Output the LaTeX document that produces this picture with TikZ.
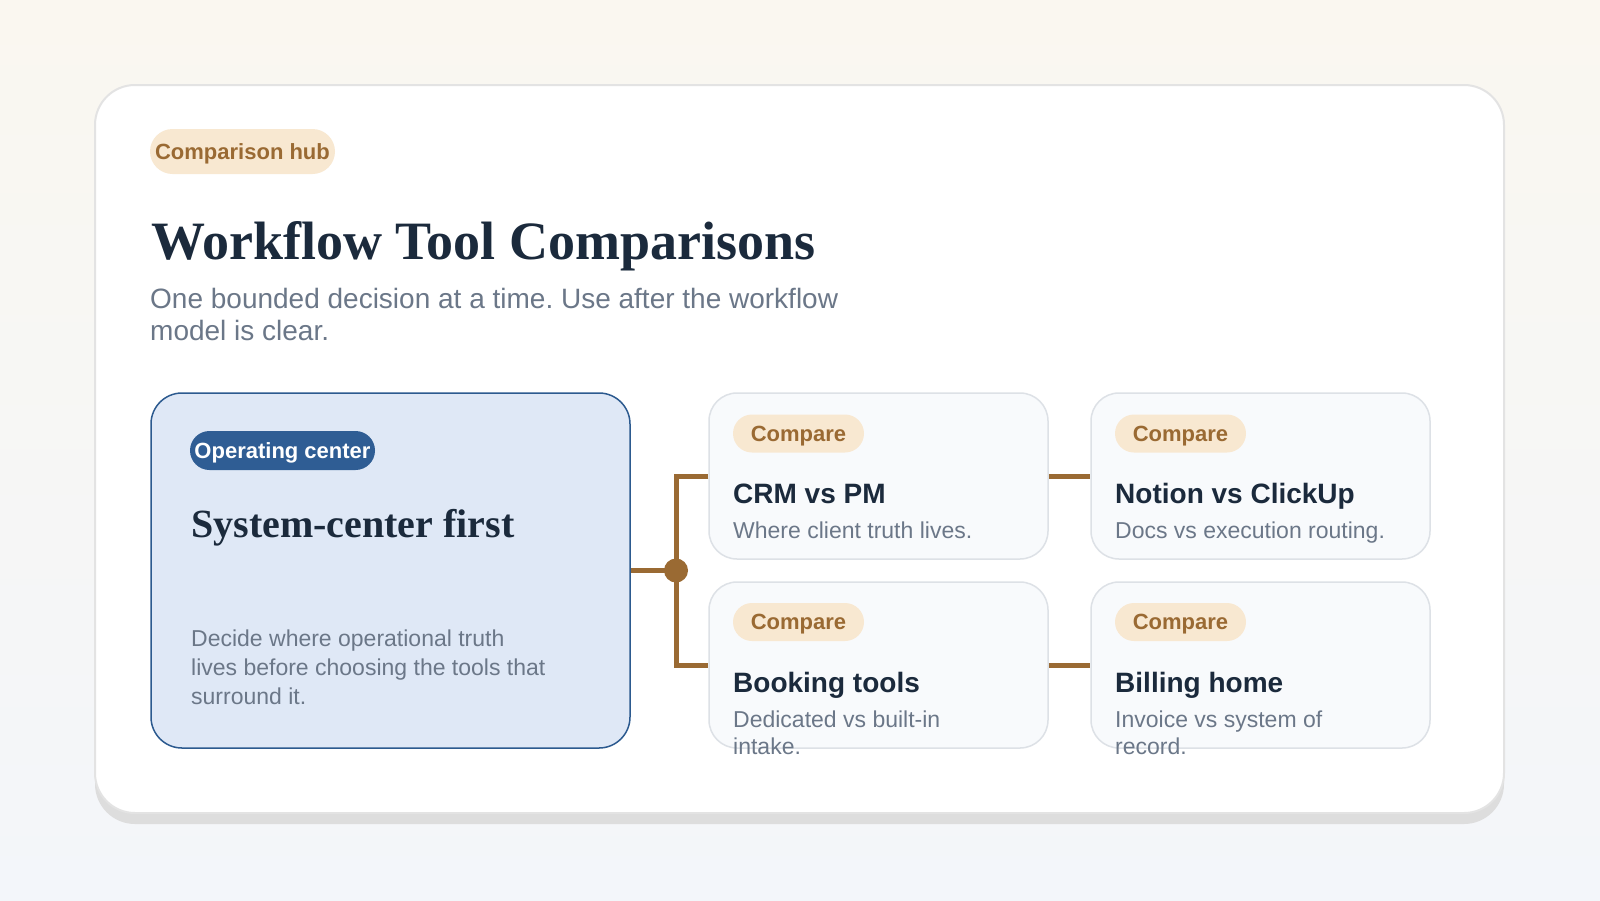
\documentclass[tikz,border=0pt]{standalone}
\usepackage{fontspec}
\setmainfont{Liberation Serif}
\newfontfamily\sansf{Liberation Sans}
\frenchspacing
\definecolor{brownc}{HTML}{9A6A33}
\definecolor{peach}{HTML}{F8E8D1}
\definecolor{navy}{HTML}{1B2A3C}
\definecolor{grayt}{HTML}{6B7788}
\definecolor{bluebox}{HTML}{DFE8F6}
\definecolor{blueline}{HTML}{2C5A8F}
\definecolor{bluepill}{HTML}{2F5D94}
\definecolor{cardfill}{HTML}{F8FAFC}
\definecolor{cardline}{HTML}{DDE1E6}
\definecolor{shadowc}{HTML}{DDDDDD}
\definecolor{outerline}{HTML}{E3E3E3}
\definecolor{bgtop}{HTML}{FAF7F0}
\definecolor{bgbot}{HTML}{F3F6FA}
\begin{document}
\begin{tikzpicture}[x=1pt,y=-1pt,
  txt/.style={anchor=base west, inner sep=0pt},
  pillbox/.style={inner sep=0pt, text height=18pt, text depth=3pt, font=\sansf\bfseries\fontsize{22}{26}\selectfont},
  tagpill/.style={pillbox, fill=peach, text=brownc, minimum width=131, minimum height=38, rounded corners=19},
  card/.style={draw=cardline, fill=cardfill, line width=1.5pt, rounded corners=28, minimum width=339, minimum height=166, inner sep=0pt},
  cardtitle/.style={txt, font=\sansf\bfseries\fontsize{28}{32}\selectfont, text=navy},
  cardsub/.style={txt, font=\sansf\fontsize{23}{27}\selectfont, text=grayt},
  conn/.style={draw=brownc, line width=5pt, line join=miter}
]
\path[top color=bgtop, bottom color=bgbot] (0,0) rectangle (1600,900);
\useasboundingbox (0,0) rectangle (1600,900);

% outer card
\node[fill=shadowc, rounded corners=40, minimum width=1409, minimum height=728, inner sep=0pt] (shadow) at (799.5,460) {};
\node[draw=outerline, fill=white, line width=2pt, rounded corners=40, minimum width=1409, minimum height=728, inner sep=0pt] (outer) at (799.5,449) {};

% header
\node[pillbox, fill=peach, text=brownc, minimum width=185, minimum height=45, rounded corners=22.5] (hubpill) at (242.5,151.5) {Comparison hub};
\node[txt, font=\bfseries\fontsize{54}{60}\selectfont, text=navy] (title) at (151,259) {Workflow Tool Comparisons};
\node[txt, font=\sansf\fontsize{28}{32}\selectfont, text=grayt] (sub1) at (150,308) {One bounded decision at a time. Use after the workflow};
\node[txt, font=\sansf\fontsize{28}{32}\selectfont, text=grayt] (sub2) at (150,340) {model is clear.};

% left big box
\node[draw=blueline, fill=bluebox, line width=1.5pt, rounded corners=31, minimum width=479, minimum height=355, inner sep=0pt] (center) at (390.5,570.5) {};
\node[pillbox, fill=bluepill, text=white, minimum width=185, minimum height=39, rounded corners=19.5] (oppill) at (282.5,450.5) {Operating center};
\node[txt, font=\bfseries\fontsize{40}{46}\selectfont, text=navy] (ctitle) at (191,537) {System-center first};
\node[cardsub] (cd1) at (191,646) {Decide where operational truth};
\node[cardsub] (cd2) at (191,675) {lives before choosing the tools that};
\node[cardsub] (cd3) at (191,704) {surround it.};

% cards
\node[card] (card1) at (878.5,476) {};
\node[card] (card2) at (1260.5,476) {};
\node[card] (card3) at (878.5,665) {};
\node[card] (card4) at (1260.5,665) {};

\node[tagpill] (p1) at (798.5,433.5) {Compare};
\node[cardtitle] (t1) at (733,503.5) {CRM vs PM};
\node[cardsub] (s1) at (733,538) {Where client truth lives.};

\node[tagpill] (p2) at (1180.5,433.5) {Compare};
\node[cardtitle] (t2) at (1115,503.5) {Notion vs ClickUp};
\node[cardsub] (s2) at (1115,538) {Docs vs execution routing.};

\node[tagpill] (p3) at (798.5,622) {Compare};
\node[cardtitle] (t3) at (733,692) {Booking tools};
\node[cardsub] (s3a) at (733,727) {Dedicated vs built-in};
\node[cardsub] (s3b) at (733,754) {intake.};

\node[tagpill] (p4) at (1180.5,622) {Compare};
\node[cardtitle] (t4) at (1115,692) {Billing home};
\node[cardsub] (s4a) at (1115,727) {Invoice vs system of};
\node[cardsub] (s4b) at (1115,754) {record.};

% connectors
\node[circle, fill=brownc, minimum size=24, inner sep=0pt] (hub) at (676,570.5) {};
\draw[conn] (center.east) -- (hub.center);
\draw[conn] (card1.west) -| (hub.center) |- (card3.west);
\draw[conn] (card1.east) -- (card2.west);
\draw[conn] (card3.east) -- (card4.west);
\end{tikzpicture}
\end{document}
